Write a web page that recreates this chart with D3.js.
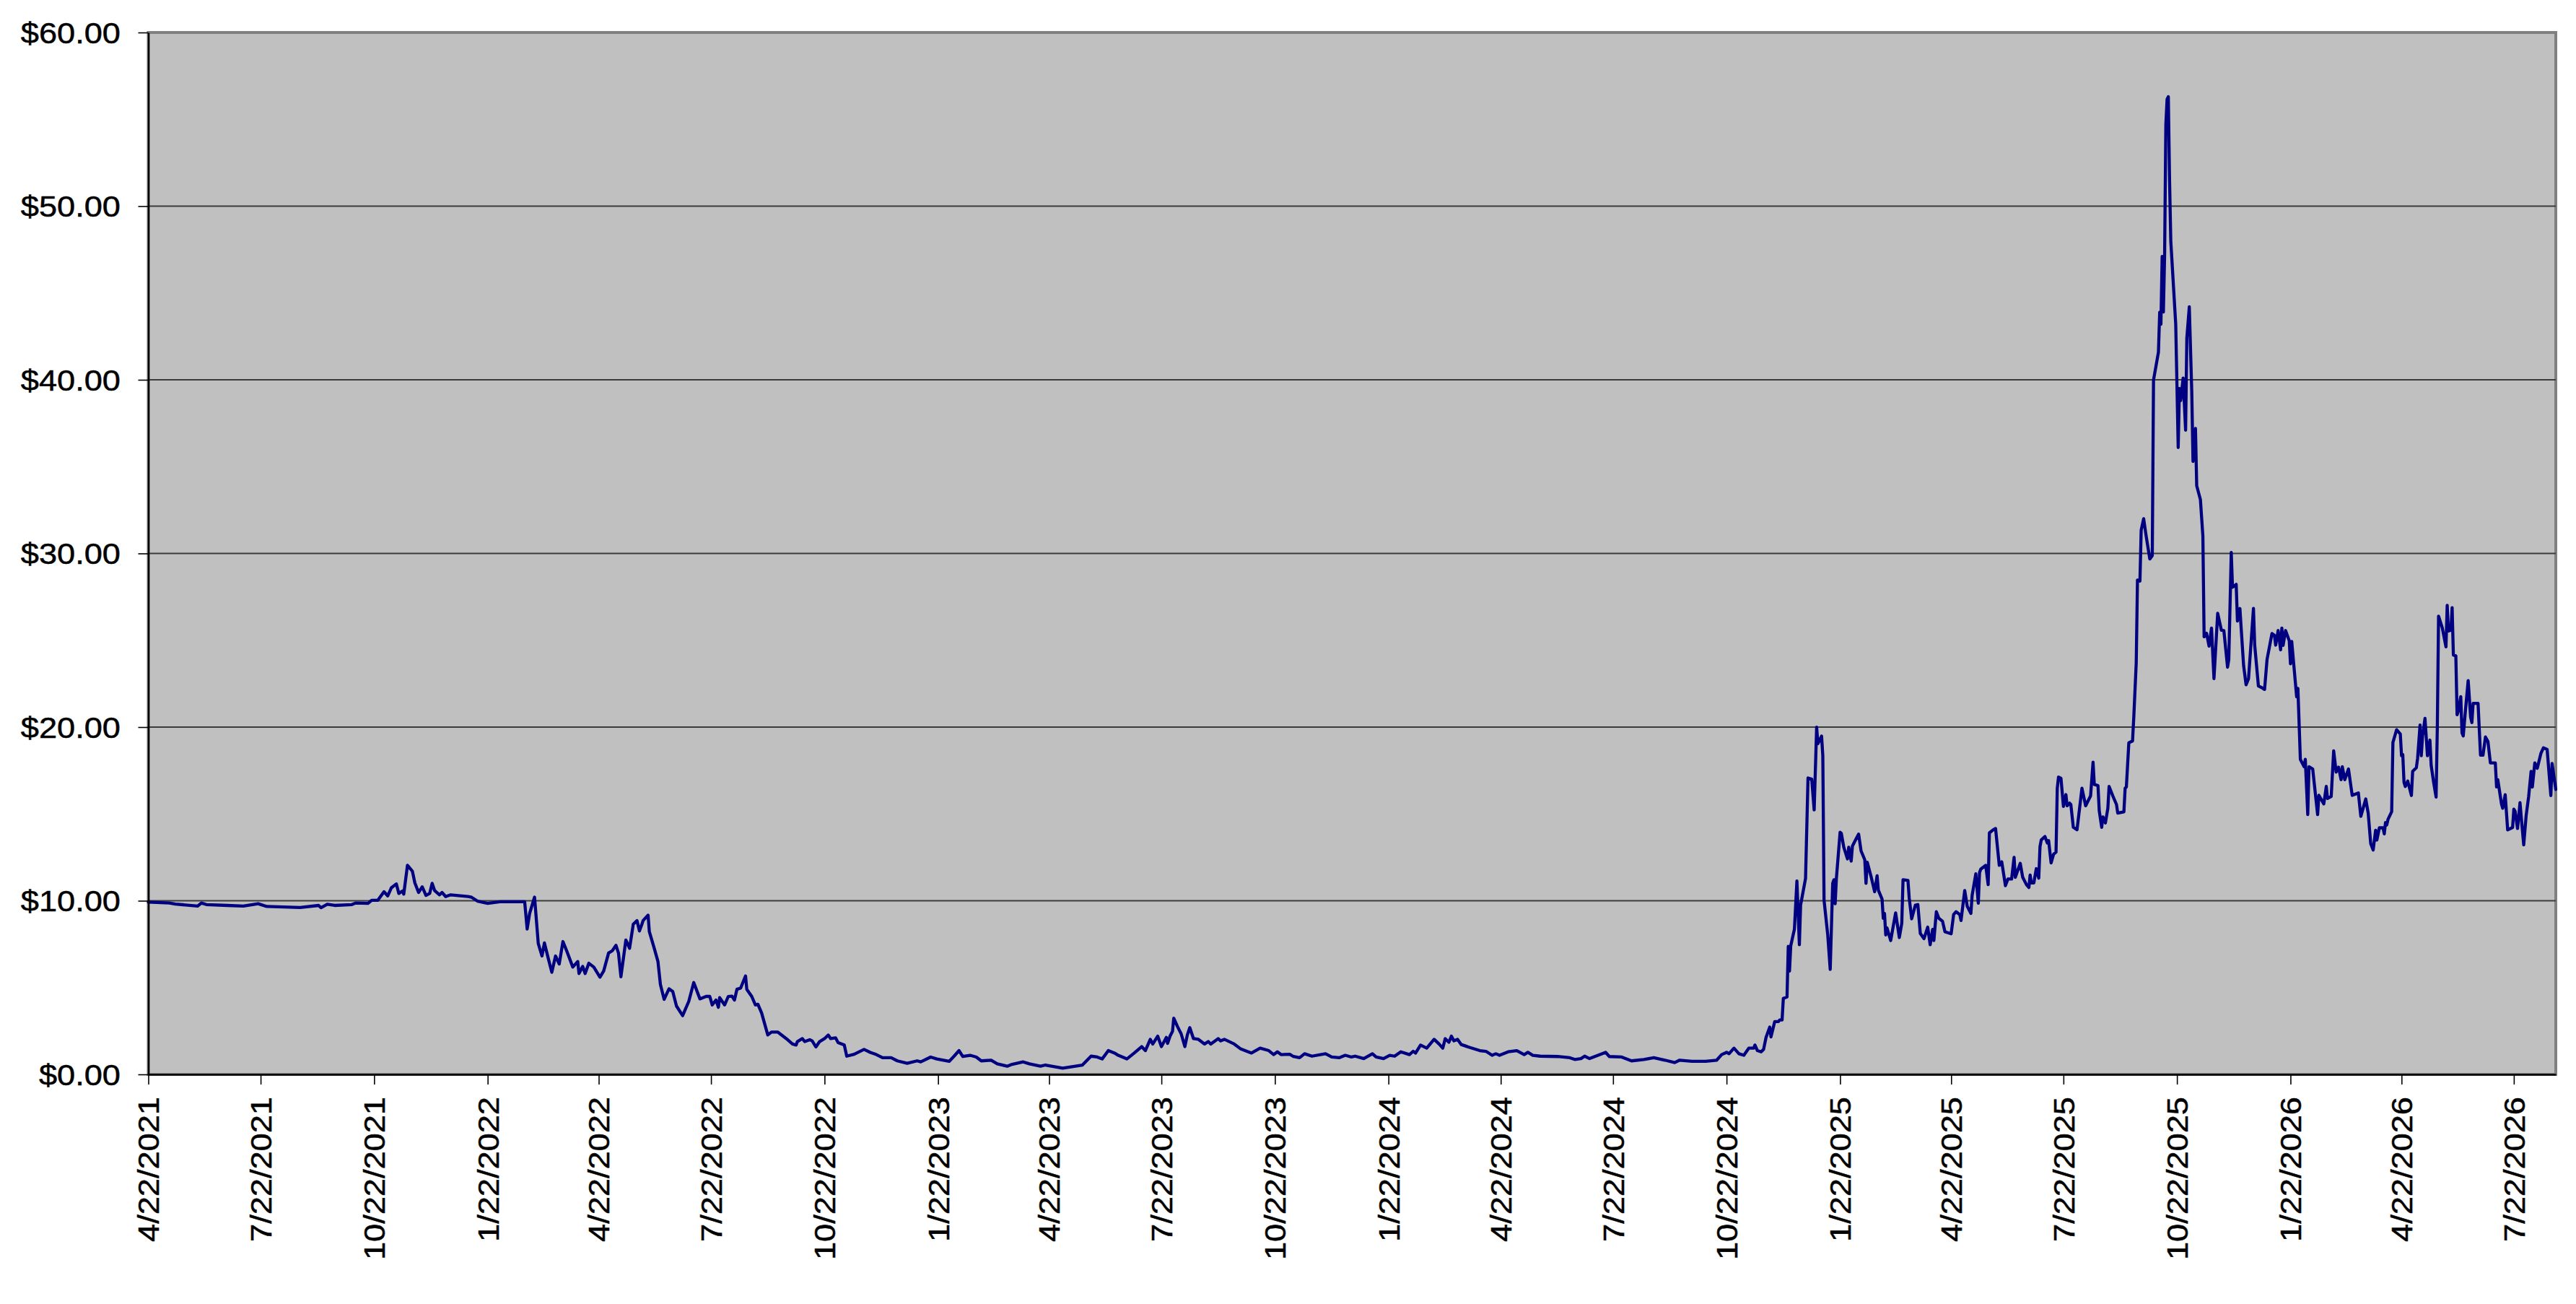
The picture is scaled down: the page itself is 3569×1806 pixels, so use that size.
<!DOCTYPE html>
<html>
<head>
<meta charset="utf-8">
<script src="https://cdn.jsdelivr.net/npm/d3@7"></script>
<style>
html, body { margin: 0; padding: 0; background: #ffffff; }
svg { display: block; font-family: "Liberation Sans", Arial, sans-serif; }
</style>
</head>
<body>
<svg id="chart" width="3569" height="1806"></svg>
<script>
// ---------- DATA (one line per month, dates and prices aligned) ----------
const dates = [
"2021-04-22",
"2021-05-09","2021-05-14",
"2021-06-01","2021-06-04","2021-06-08","2021-06-25",
"2021-07-08","2021-07-20","2021-07-27",
"2021-08-23",
"2021-09-07","2021-09-09","2021-09-14","2021-09-20",
"2021-10-04","2021-10-07","2021-10-17","2021-10-20","2021-10-25","2021-10-30",
"2021-11-02","2021-11-05","2021-11-09","2021-11-11","2021-11-14","2021-11-15","2021-11-18","2021-11-22","2021-11-24","2021-11-27","2021-11-30",
"2021-12-03","2021-12-06","2021-12-08","2021-12-10","2021-12-14","2021-12-16","2021-12-19","2021-12-23",
"2022-01-06","2022-01-09","2022-01-14","2022-01-22",
"2022-02-01","2022-02-21","2022-02-23","2022-02-25",
"2022-03-01","2022-03-04","2022-03-07","2022-03-09","2022-03-12","2022-03-15","2022-03-18","2022-03-21","2022-03-24","2022-03-27",
"2022-04-01","2022-04-05","2022-04-06","2022-04-09","2022-04-11","2022-04-14","2022-04-18","2022-04-23","2022-04-26","2022-04-30",
"2022-05-03","2022-05-06","2022-05-08","2022-05-10","2022-05-14","2022-05-17","2022-05-20","2022-05-23","2022-05-25","2022-05-27","2022-05-28",
"2022-06-01","2022-06-02","2022-06-06","2022-06-09","2022-06-11","2022-06-14","2022-06-18","2022-06-21","2022-06-24","2022-06-29",
"2022-07-04","2022-07-08","2022-07-13","2022-07-18","2022-07-21","2022-07-23","2022-07-26","2022-07-28","2022-07-29",
"2022-08-02","2022-08-05","2022-08-08","2022-08-10","2022-08-12","2022-08-15","2022-08-19","2022-08-20","2022-08-24","2022-08-27","2022-08-29",
"2022-09-01","2022-09-06","2022-09-09","2022-09-14","2022-09-21","2022-09-26","2022-09-29","2022-09-30",
"2022-10-04","2022-10-06","2022-10-10","2022-10-12","2022-10-15","2022-10-18","2022-10-22","2022-10-25","2022-10-27","2022-10-31",
"2022-11-02","2022-11-07","2022-11-09","2022-11-15","2022-11-23","2022-11-28",
"2022-12-03","2022-12-08","2022-12-15","2022-12-20","2022-12-28",
"2023-01-05","2023-01-08","2023-01-16","2023-01-21","2023-01-31",
"2023-02-04","2023-02-08","2023-02-11","2023-02-17","2023-02-22","2023-02-26",
"2023-03-06","2023-03-11","2023-03-19","2023-03-23",
"2023-04-01","2023-04-06","2023-04-15","2023-04-19",
"2023-05-03","2023-05-19","2023-05-26","2023-05-31",
"2023-06-04","2023-06-09","2023-06-14","2023-06-17","2023-06-24","2023-06-30",
"2023-07-06","2023-07-09","2023-07-13","2023-07-15","2023-07-19","2023-07-22","2023-07-26","2023-07-27","2023-07-29","2023-07-31",
"2023-08-01","2023-08-04","2023-08-07","2023-08-10","2023-08-12","2023-08-14","2023-08-17","2023-08-21","2023-08-26","2023-08-29","2023-08-31",
"2023-09-06","2023-09-08","2023-09-11","2023-09-19","2023-09-24",
"2023-10-03","2023-10-10","2023-10-17","2023-10-21","2023-10-24","2023-10-27",
"2023-11-03","2023-11-06","2023-11-11","2023-11-15","2023-11-21",
"2023-12-02","2023-12-07","2023-12-13","2023-12-18","2023-12-23","2023-12-26",
"2024-01-02","2024-01-09","2024-01-12","2024-01-18","2024-01-23","2024-01-27",
"2024-02-01","2024-02-08","2024-02-11","2024-02-13","2024-02-17","2024-02-22","2024-02-28",
"2024-03-03","2024-03-06","2024-03-08","2024-03-11","2024-03-13","2024-03-15","2024-03-18","2024-03-21","2024-03-28",
"2024-04-05","2024-04-10","2024-04-15","2024-04-18","2024-04-21","2024-04-28",
"2024-05-05","2024-05-11","2024-05-14","2024-05-18","2024-05-24",
"2024-06-07","2024-06-17","2024-06-21","2024-06-26","2024-06-29",
"2024-07-03","2024-07-16","2024-07-19","2024-07-29",
"2024-08-06","2024-08-16","2024-08-24",
"2024-09-02","2024-09-10","2024-09-14","2024-09-24",
"2024-10-05","2024-10-14","2024-10-18","2024-10-22","2024-10-24","2024-10-28",
"2024-11-01","2024-11-05","2024-11-09","2024-11-13","2024-11-14","2024-11-16","2024-11-19","2024-11-21","2024-11-23","2024-11-26","2024-11-27","2024-11-30",
"2024-12-03","2024-12-04","2024-12-06","2024-12-07","2024-12-10","2024-12-11","2024-12-12","2024-12-13","2024-12-16","2024-12-18","2024-12-20","2024-12-21","2024-12-25","2024-12-27","2024-12-30",
"2025-01-01","2025-01-03","2025-01-04","2025-01-07","2025-01-08","2025-01-09","2025-01-12","2025-01-14","2025-01-16","2025-01-17","2025-01-18","2025-01-19","2025-01-22","2025-01-23","2025-01-25","2025-01-28","2025-01-29","2025-01-31",
"2025-02-01","2025-02-03","2025-02-06","2025-02-08","2025-02-11","2025-02-12","2025-02-13","2025-02-16","2025-02-19","2025-02-21","2025-02-22","2025-02-25","2025-02-26","2025-02-27","2025-02-28",
"2025-03-01","2025-03-04","2025-03-08","2025-03-11","2025-03-13","2025-03-14","2025-03-18","2025-03-19","2025-03-21","2025-03-24","2025-03-26","2025-03-28","2025-03-31",
"2025-04-03","2025-04-05","2025-04-07","2025-04-08","2025-04-10","2025-04-12","2025-04-15","2025-04-17","2025-04-22","2025-04-24","2025-04-26","2025-04-29","2025-04-30",
"2025-05-03","2025-05-05","2025-05-08","2025-05-09","2025-05-12","2025-05-14","2025-05-15","2025-05-16","2025-05-20","2025-05-22","2025-05-23","2025-05-26","2025-05-28","2025-05-31",
"2025-06-02","2025-06-05","2025-06-07","2025-06-10","2025-06-12","2025-06-13","2025-06-17","2025-06-19","2025-06-22","2025-06-24","2025-06-25","2025-06-26","2025-06-28","2025-06-30",
"2025-07-02","2025-07-03","2025-07-04","2025-07-07","2025-07-09","2025-07-10","2025-07-12","2025-07-14","2025-07-16","2025-07-17","2025-07-18","2025-07-20","2025-07-22","2025-07-24","2025-07-25","2025-07-27","2025-07-28","2025-07-30",
"2025-08-02","2025-08-06","2025-08-09","2025-08-13","2025-08-15","2025-08-16","2025-08-19","2025-08-20","2025-08-22","2025-08-23","2025-08-25","2025-08-27","2025-08-28","2025-08-31",
"2025-09-03","2025-09-04","2025-09-09","2025-09-10","2025-09-11","2025-09-13","2025-09-16","2025-09-17","2025-09-19","2025-09-20","2025-09-22","2025-09-23","2025-09-25","2025-09-27","2025-09-30",
"2025-10-02","2025-10-03","2025-10-07","2025-10-08","2025-10-09","2025-10-10","2025-10-11","2025-10-12","2025-10-13","2025-10-14","2025-10-15","2025-10-16","2025-10-17","2025-10-21","2025-10-23","2025-10-24","2025-10-25","2025-10-27","2025-10-29","2025-10-30",
"2025-11-01","2025-11-03","2025-11-04","2025-11-06","2025-11-07","2025-11-10","2025-11-12","2025-11-13","2025-11-15","2025-11-17","2025-11-19","2025-11-21","2025-11-24","2025-11-27","2025-11-29",
"2025-12-02","2025-12-03","2025-12-05","2025-12-06","2025-12-09","2025-12-10","2025-12-12","2025-12-15","2025-12-17","2025-12-19","2025-12-23","2025-12-24","2025-12-27","2025-12-30",
"2026-01-01","2026-01-03","2026-01-07","2026-01-09","2026-01-10","2026-01-12","2026-01-14","2026-01-15","2026-01-16","2026-01-18","2026-01-21","2026-01-22","2026-01-23","2026-01-27","2026-01-28","2026-01-30",
"2026-02-02","2026-02-03","2026-02-05","2026-02-06","2026-02-09","2026-02-13","2026-02-14","2026-02-18","2026-02-20","2026-02-21","2026-02-24","2026-02-26","2026-02-28",
"2026-03-02","2026-03-04","2026-03-05","2026-03-07","2026-03-10","2026-03-13","2026-03-18","2026-03-20","2026-03-24","2026-03-26","2026-03-28","2026-03-30",
"2026-04-01","2026-04-02","2026-04-04","2026-04-07","2026-04-08","2026-04-09","2026-04-10","2026-04-11","2026-04-14","2026-04-15","2026-04-18","2026-04-21","2026-04-22","2026-04-23","2026-04-24","2026-04-25","2026-04-27","2026-04-30",
"2026-05-01","2026-05-04","2026-05-05","2026-05-07","2026-05-08","2026-05-09","2026-05-11","2026-05-13","2026-05-15","2026-05-16","2026-05-18","2026-05-20","2026-05-21","2026-05-22","2026-05-25","2026-05-28","2026-05-29","2026-05-30",
"2026-06-01","2026-06-02","2026-06-03","2026-06-05","2026-06-06","2026-06-07","2026-06-09","2026-06-10","2026-06-11","2026-06-13","2026-06-15","2026-06-17","2026-06-18","2026-06-19","2026-06-23","2026-06-25","2026-06-27","2026-06-29",
"2026-07-01","2026-07-03","2026-07-07","2026-07-08","2026-07-09","2026-07-12","2026-07-13","2026-07-15","2026-07-17","2026-07-21","2026-07-22","2026-07-23","2026-07-25","2026-07-27","2026-07-28","2026-07-30",
"2026-08-01","2026-08-03","2026-08-05","2026-08-06","2026-08-08","2026-08-10","2026-08-13","2026-08-15","2026-08-18","2026-08-21","2026-08-22","2026-08-25"
];

const prices = [
9.92,
9.87,9.81,
9.69,9.87,9.78,9.73,
9.69,9.83,9.67,
9.61,
9.73,9.60,9.80,9.73,
9.78,9.87,9.85,10.03,10.03,10.52,
10.28,10.75,10.97,10.42,10.56,10.38,12.04,11.70,11.03,10.48,10.80,
10.31,10.42,11.00,10.59,10.34,10.48,10.24,10.34,
10.24,10.20,9.97,9.85,
9.94,9.94,8.37,9.27,
10.21,7.54,6.82,7.57,6.71,5.88,6.82,6.36,7.65,7.12,
6.18,6.50,5.81,6.22,5.81,6.40,6.18,5.60,5.95,6.99,
7.12,7.43,6.99,5.62,7.74,7.26,8.65,8.86,8.26,8.65,8.86,
9.17,8.23,7.26,6.50,5.18,4.32,4.93,4.77,3.94,3.38,
4.21,5.29,4.35,4.49,4.49,4.00,4.28,3.87,4.42,
4.00,4.49,4.51,4.28,4.90,4.97,5.67,4.90,4.49,4.00,4.04,
3.54,2.27,2.44,2.44,2.06,1.75,1.69,1.89,
2.06,1.89,2.00,1.93,1.58,1.89,2.06,2.27,2.06,2.10,
1.83,1.69,1.05,1.16,1.44,1.27,
1.14,0.96,0.96,0.78,0.64,
0.78,0.72,1.00,0.89,0.75,
1.05,1.37,1.03,1.10,1.00,0.78,
0.82,0.61,0.47,0.58,
0.72,0.61,0.47,0.54,
0.36,0.54,1.05,1.00,
0.89,1.37,1.23,1.10,0.89,1.23,
1.60,1.37,2.02,1.75,2.20,1.60,2.13,1.79,2.20,2.48,
3.24,2.76,2.34,1.60,2.27,2.69,2.06,2.02,1.75,1.89,1.75,
2.06,1.93,2.02,1.75,1.48,
1.23,1.51,1.37,1.14,1.30,1.14,
1.16,1.03,0.96,1.19,1.05,
1.19,1.00,0.96,1.10,1.00,1.05,
0.91,1.19,1.00,0.91,1.10,1.05,
1.30,1.14,1.33,1.23,1.69,1.51,2.02,
1.75,1.51,2.06,1.85,2.20,1.93,2.02,1.72,1.55,
1.37,1.33,1.10,1.19,1.10,1.30,
1.37,1.14,1.27,1.10,1.05,
1.03,0.96,0.86,0.91,1.05,
0.91,1.27,1.03,1.00,
0.78,0.86,0.96,
0.82,0.68,0.82,0.75,
0.75,0.82,1.14,1.27,1.19,1.51,
1.19,1.10,1.51,1.51,1.69,1.37,1.30,1.44,2.13,2.72,2.16,3.04,
3.04,3.13,3.13,4.38,4.46,7.37,5.95,7.40,8.37,11.14,7.47,9.75,11.28,17.07,17.00,
15.23,19.99,19.04,19.48,18.35,10.03,8.03,6.05,11.00,11.21,9.83,11.28,13.94,13.88,13.08,12.41,13.08,12.28,
13.15,13.43,13.84,12.87,12.36,11.00,12.22,11.42,10.52,11.44,10.61,10.10,8.99,9.27,8.03,
8.44,7.71,9.30,7.88,8.71,11.21,11.17,10.17,8.96,9.75,9.78,8.12,7.82,
8.48,7.47,8.35,7.71,9.37,8.99,8.82,8.21,8.10,9.20,9.37,9.20,8.86,
10.59,9.69,9.27,10.31,11.55,9.86,11.62,11.82,12.04,10.93,13.91,14.08,14.16,12.04,
12.24,10.87,11.25,11.25,12.50,11.35,12.15,11.35,10.93,10.76,11.48,11.02,11.02,11.85,
11.30,13.11,13.50,13.70,13.32,13.46,12.18,12.68,12.80,16.48,17.12,17.05,15.43,16.11,15.47,15.62,15.54,14.23,
14.09,16.48,15.47,16.04,17.98,16.70,16.63,15.19,14.23,14.83,14.48,15.33,16.58,16.04,
15.54,15.05,15.12,16.48,16.55,19.10,19.20,20.56,23.71,28.47,28.41,31.34,32.00,31.02,29.68,
29.88,39.98,41.60,43.89,43.20,47.10,43.90,47.20,54.70,56.16,56.30,51.50,47.99,43.20,36.10,39.50,38.80,40.10,37.10,42.40,
44.20,39.30,35.30,37.20,33.90,33.10,31.00,25.20,25.40,24.66,25.70,22.79,26.55,25.58,25.56,
23.45,23.89,30.06,28.05,28.22,26.11,26.83,23.55,22.44,22.79,26.83,24.72,22.37,22.26,
22.17,23.89,25.39,25.28,24.72,25.56,24.45,25.70,24.70,25.56,24.97,23.64,24.93,21.74,22.23,18.14,
17.72,18.14,14.96,17.72,17.59,14.96,16.07,15.58,16.58,15.89,16.00,18.63,17.41,
17.69,16.97,17.72,16.97,17.59,16.07,16.21,14.86,15.86,15.03,13.30,12.92,
14.06,13.50,14.20,14.20,13.85,14.50,14.36,14.68,15.13,19.11,19.85,19.60,18.35,18.42,16.82,16.58,16.89,16.06,
17.45,17.66,18.19,20.12,18.35,19.46,20.50,18.35,19.25,17.80,16.82,15.97,20.01,26.39,25.72,24.62,27.01,25.53,
25.58,26.88,24.15,24.10,20.71,20.91,21.75,19.67,19.49,21.13,22.68,20.57,20.26,21.37,21.37,18.38,18.38,19.43,
19.18,17.94,17.94,16.55,16.97,15.58,15.33,16.11,14.08,14.22,15.27,15.16,14.16,15.65,14.82,13.22,
14.92,16.00,17.45,16.55,17.94,17.63,18.50,18.81,18.71,16.06,17.90,16.41
];

const xTickLabels = [
"4/22/2021","7/22/2021","10/22/2021","1/22/2022","4/22/2022","7/22/2022",
"10/22/2022","1/22/2023","4/22/2023","7/22/2023","10/22/2023","1/22/2024",
"4/22/2024","7/22/2024","10/22/2024","1/22/2025","4/22/2025","7/22/2025",
"10/22/2025","1/22/2026","4/22/2026","7/22/2026"
];

const yTickValues = [0, 10, 20, 30, 40, 50, 60];

// ---------- LAYOUT ----------
const W = 3569, H = 1806;
const plot = { left: 205.5, right: 3541, top: 45, bottom: 1488 };
const fontSize = 40;
const stretch = 1.13;

const parseISO = d3.timeParse("%Y-%m-%d");
const parseTick = d3.timeParse("%m/%d/%Y");

const n = Math.min(dates.length, prices.length);
const series = d3.range(n).map(i => ({ date: parseISO(dates[i]), value: prices[i] }));

const x = d3.scaleTime()
  .domain(d3.extent(series, d => d.date))
  .range([plot.left, plot.right]);

const y = d3.scaleLinear()
  .domain([0, 60])
  .range([plot.bottom, plot.top]);

const svg = d3.select("#chart");

svg.append("rect")
  .attr("x", 0).attr("y", 0).attr("width", W).attr("height", H)
  .attr("fill", "#ffffff");

// plot area background
svg.append("rect")
  .attr("x", plot.left).attr("y", plot.top)
  .attr("width", plot.right - plot.left)
  .attr("height", plot.bottom - plot.top)
  .attr("fill", "#c0c0c0")
  .attr("stroke", "#808080")
  .attr("stroke-width", 4);

// gridlines
svg.append("g")
  .selectAll("line")
  .data(yTickValues.filter(v => v > 0 && v < 60))
  .join("line")
  .attr("x1", plot.left).attr("x2", plot.right)
  .attr("y1", d => y(d)).attr("y2", d => y(d))
  .attr("stroke", "#3c3c3c")
  .attr("stroke-width", 2);

// series line
const line = d3.line()
  .x(d => x(d.date))
  .y(d => y(d.value));

svg.append("path")
  .datum(series)
  .attr("d", line)
  .attr("fill", "none")
  .attr("stroke", "#000080")
  .attr("stroke-width", 4.3)
  .attr("stroke-linejoin", "round")
  .attr("stroke-linecap", "round");

// Y axis
const yAxis = d3.axisLeft(y)
  .tickValues(yTickValues)
  .tickSize(14)
  .tickSizeOuter(0)
  .tickFormat(d => "$" + d.toFixed(2));

const gy = svg.append("g")
  .attr("transform", `translate(${plot.left},0)`)
  .call(yAxis);

gy.select(".domain").attr("stroke", "#000").attr("stroke-width", 2.5);
gy.selectAll(".tick line").attr("stroke", "#000").attr("stroke-width", 1.6);
gy.selectAll(".tick text")
  .attr("x", null)
  .attr("dy", "0.36em")
  .attr("fill", "#000")
  .attr("stroke", "#000")
  .attr("stroke-width", 0.5)
  .attr("font-size", fontSize)
  .attr("font-family", '"Liberation Sans", Arial, sans-serif')
  .attr("text-anchor", "end")
  .attr("transform", `translate(${167 - plot.left},0) scale(${stretch},1)`);

// X axis
const xAxis = d3.axisBottom(x)
  .tickValues(xTickLabels.map(s => parseTick(s)))
  .tickSize(14)
  .tickSizeOuter(0)
  .tickFormat((d, i) => xTickLabels[i]);

const gx = svg.append("g")
  .attr("transform", `translate(0,${plot.bottom})`)
  .call(xAxis);

gx.select(".domain").attr("stroke", "#000").attr("stroke-width", 2.5);
gx.selectAll(".tick line").attr("stroke", "#000").attr("stroke-width", 1.6);
gx.selectAll(".tick text")
  .attr("y", null)
  .attr("dy", "0.36em")
  .attr("fill", "#000")
  .attr("stroke", "#000")
  .attr("stroke-width", 0.5)
  .attr("font-size", fontSize)
  .attr("font-family", '"Liberation Sans", Arial, sans-serif')
  .attr("text-anchor", "end")
  .attr("transform", `translate(0,31) rotate(-90) scale(${stretch},1)`);
</script>
</body>
</html>
